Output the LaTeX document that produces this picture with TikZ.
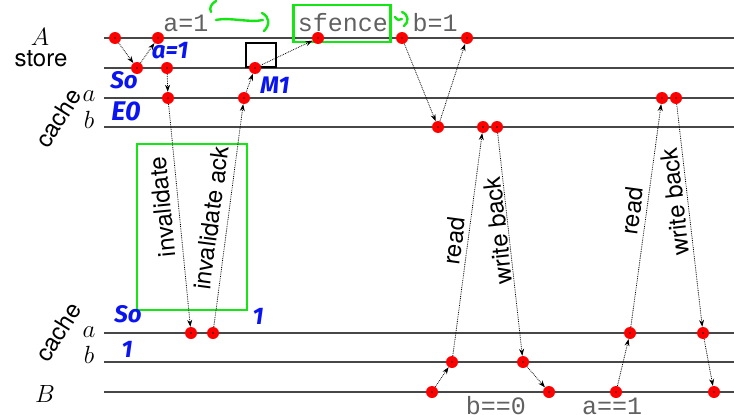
\documentclass[tikz,border=0pt]{standalone}
\usepackage{fontspec}
\setsansfont{TeX Gyre Heros}
\setmonofont{Liberation Mono}
\newfontfamily\handfont{Fira Sans}
\usetikzlibrary{arrows.meta}
\definecolor{hlgreen}{RGB}{20,230,20}
\definecolor{penblue}{RGB}{10,20,240}
\begin{document}
\begin{tikzpicture}[x=1pt,y=-1pt,
  hline/.style={line width=1.4pt, black!72},
  ev/.style={circle, fill=red, inner sep=0pt, minimum size=12pt,
    path picture={\fill[black] (path picture bounding box.center) circle (0.9pt);}},
  msg/.style={densely dotted, line width=0.8pt, -{Stealth[length=7pt,width=5pt]}},
  lbl/.style={font=\sffamily\fontsize{24}{26}\selectfont, inner sep=0pt},
  var/.style={font=\fontsize{26}{28}\selectfont\itshape, inner sep=0pt},
  code/.style={font=\ttfamily\fontsize{25}{27}\selectfont, text=black!62, inner sep=0pt, anchor=base},
  hand/.style={font=\handfont\itshape\bfseries\fontsize{24}{26}\selectfont, text=penblue, inner sep=0pt},
  gline/.style={draw=hlgreen, line width=2.4pt, line cap=round},
  gbox/.style={draw=hlgreen, line width=2.8pt}]
\useasboundingbox (0,0) rectangle (734,415);

% horizontal lines
\foreach \n/\y in {A/38, S/68, Ca/98, Cb/127, Da/333, Db/362, B/392}{
  \coordinate (\n0) at (104,\y);
  \coordinate (\n1) at (734,\y);
  \draw[hline] (\n0) -- (\n1);
}

% left labels
\node[var] (labA) at (40,37) {$A$};
\node[lbl] (labstore) at (41,59) {store};
\node[lbl, rotate=58] (labcache1) at (58,118) {cache};
\node[var] (labca1) at (89,96) {$a$};
\node[var] (labcb1) at (89,120) {$b$};
\node[lbl, rotate=58] (labcache2) at (58,332) {cache};
\node[var] (labca2) at (89,332) {$a$};
\node[var] (labcb2) at (89,355) {$b$};
\node[var] (labB) at (45,394) {$B$};

% green and black boxes
\node[gbox, minimum width=97pt, minimum height=37pt, inner sep=0pt] (fbox) at (342,23.5) {};
\node[gbox, minimum width=110pt, minimum height=166pt, inner sep=0pt] (ibox) at (192,227) {};
\node[draw=black, line width=2.4pt, minimum width=30pt, minimum height=24pt, inner sep=0pt] (mbox) at (261,55) {};

% code texts
\node[code] (ta) at (186,31) {a=1};
\node[code] (tf) at (343,31) {sfence};
\node[code] (tb) at (435,31) {b=1};
\node[code] (tb0) at (496,414) {b==0};
\node[code] (ta1) at (612,414) {a==1};

% events
\node[ev] (e1) at (115,38) {};
\node[ev] (e2) at (137,68) {};
\node[ev] (e3) at (158,38) {};
\node[ev] (e4) at (167,68) {};
\node[ev] (e5) at (168,98) {};
\node[ev] (e6) at (191,333) {};
\node[ev] (e7) at (213,333) {};
\node[ev] (e8) at (244,98) {};
\node[ev] (e9) at (255,68) {};
\node[ev] (e10) at (318,38) {};
\node[ev] (e11) at (402,38) {};
\node[ev] (e12) at (438,127) {};
\node[ev] (e13) at (467,38) {};
\node[ev] (e14) at (432,392) {};
\node[ev] (e15) at (452,362) {};
\node[ev] (e16) at (483,127) {};
\node[ev] (e17) at (497,127) {};
\node[ev] (e18) at (523,362) {};
\node[ev] (e19) at (549,392) {};
\node[ev] (e20) at (616,392) {};
\node[ev] (e21) at (630,333) {};
\node[ev] (e22) at (662,98) {};
\node[ev] (e23) at (676,98) {};
\node[ev] (e24) at (703,333) {};
\node[ev] (e25) at (714,392) {};

% messages
\draw[msg] (e1) -- (e2);
\draw[msg] (e2) -- (e3);
\draw[msg] (e4) -- (e5);
\draw[msg] (e5) -- (e6);
\draw[msg] (e7) -- (e8);
\draw[msg] (e8) -- (e9);
\draw[msg] (e9) -- (e10);
\draw[msg] (e11) -- (e12);
\draw[msg] (e12) -- (e13);
\draw[msg] (e14) -- (e15);
\draw[msg] (e15) -- (e16);
\draw[msg] (e17) -- (e18);
\draw[msg] (e18) -- (e19);
\draw[msg] (e20) -- (e21);
\draw[msg] (e21) -- (e22);
\draw[msg] (e23) -- (e24);
\draw[msg] (e24) -- (e25);

% message labels
\node[lbl, rotate=95.6] (linv) at (162,207) {invalidate};
\node[lbl, rotate=82.5] (lack) at (211,218) {invalidate ack};
\node[lbl, rotate=82.5] (lr1) at (454,241) {read};
\node[lbl, rotate=96.3] (lw1) at (498,231) {write back};
\node[lbl, rotate=82.2] (lr2) at (632,211) {read};
\node[lbl, rotate=96.6] (lw2) at (675,202) {write back};

% handwritten notes
\node[hand] (h1) at (170,51) {a=1};
\node[hand] (h2) at (124,80) {So};
\node[hand, font=\handfont\itshape\bfseries\fontsize{27}{29}\selectfont] (h3) at (126,111) {E0};
\node[hand] (h4) at (275,85) {M1};
\node[hand] (h5) at (258,316) {1};
\node[hand] (h6) at (128,314) {So};
\node[hand] (h7) at (127,349) {1};

% green pen strokes
\draw[gline] (216,1) .. controls (211,4) and (209,8) .. (211,12);
\draw[gline] (216,20) .. controls (230,17) and (250,23) .. (263,20);
\draw[gline] (262,13) .. controls (270,17) and (270,25) .. (264,31);
\draw[gline] (395,17) .. controls (397,20) and (400,21) .. (402,19);
\draw[gline] (402,12) .. controls (409,15) and (409,22) .. (404,26);
\end{tikzpicture}
\end{document}
